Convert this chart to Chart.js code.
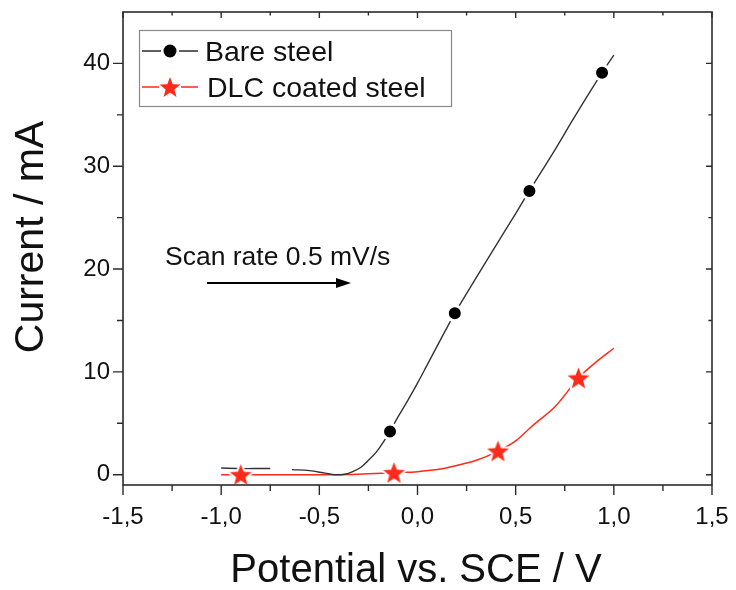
<!DOCTYPE html>
<html>
<head>
<meta charset="utf-8">
<script src="https://cdn.jsdelivr.net/npm/chart.js@4/dist/chart.umd.min.js"></script>
<style>
  html, body { margin: 0; padding: 0; background: #fff; }
  #wrap { width: 736px; height: 590px; }
</style>
</head>
<body>
<div id="wrap"><canvas id="ivChart" width="736" height="590"></canvas></div>
<script>
// Bare steel polarisation curve (V vs SCE, mA); null = break in the trace
var bareV = [-1.00, -0.90, -0.80, -0.75, -0.71, -0.64, -0.55, -0.47, -0.42, -0.37, -0.33, -0.29, -0.25, -0.21, -0.17, -0.14, -0.10, -0.05, 0.00, 0.05, 0.10, 0.19, 0.30, 0.40, 0.50, 0.57, 0.70, 0.80, 0.94, 1.00];
var bareI = [0.65, 0.6, 0.6, 0.6, null, 0.5, 0.4, 0.15, 0.0, 0.05, 0.3, 0.7, 1.4, 2.2, 3.3, 4.2, 5.6, 7.2, 8.9, 10.7, 12.5, 15.7, 19.2, 22.3, 25.4, 27.6, 31.6, 34.8, 39.1, 40.8];
var bareMarkV = [-0.14, 0.19, 0.57, 0.94];
var bareMarkI = [4.2, 15.7, 27.6, 39.1];

// DLC coated steel
var dlcV = [-1.00, -0.90, -0.70, -0.50, -0.30, -0.12, 0.00, 0.10, 0.20, 0.30, 0.41, 0.50, 0.57, 0.60, 0.70, 0.82, 0.90, 1.00];
var dlcI = [0.0, 0.0, 0.0, 0.0, 0.05, 0.2, 0.3, 0.5, 0.9, 1.4, 2.3, 3.3, 4.5, 5.0, 6.6, 9.4, 10.8, 12.3];
var dlcMarkV = [-0.90, -0.12, 0.41, 0.82];
var dlcMarkI = [0.0, 0.2, 2.3, 9.4];

var xTicks = [-1.5, -1.0, -0.5, 0.0, 0.5, 1.0, 1.5];
var yTicks = [0, 10, 20, 30, 40];
var xMinor = [-1.25, -0.75, -0.25, 0.25, 0.75, 1.25];
var yMinor = [5, 15, 25, 35];

var seriesNames = ['Bare steel', 'DLC coated steel'];
var xTitle = 'Potential vs. SCE / V';
var yTitle = 'Current / mA';
var noteText = 'Scan rate 0.5 mV/s';

var FONT = "'Liberation Sans', Arial, sans-serif";
var RED = '#ff2a1a';
var DARK = '#2b2b2b';

function zip(xs, ys) {
    return xs.map(function(x, i) { return { x: x, y: ys[i] }; });
}

function starPath(ctx, cx, cy, r) {
    ctx.beginPath();
    for (var i = 0; i < 10; i++) {
        var rr = i % 2 === 0 ? r : r * 0.42;
        var a = -Math.PI / 2 + i * Math.PI / 5;
        ctx.lineTo(cx + rr * Math.cos(a), cy + rr * Math.sin(a));
    }
    ctx.closePath();
}

// star marker as a small canvas, with a white halo so the line breaks round it
function makeStar(r) {
    var c = document.createElement('canvas');
    var s = Math.ceil(r * 2 + 6);
    c.width = s; c.height = s;
    var g = c.getContext('2d');
    starPath(g, s / 2, s / 2 + 1, r);
    g.lineWidth = 4; g.strokeStyle = '#fff'; g.lineJoin = 'round'; g.stroke();
    g.fillStyle = RED; g.fill();
    return c;
}
var starImg = makeStar(11.5);

function noScalePadding(s) {
    s.paddingTop = 0; s.paddingBottom = 0; s.paddingLeft = 0; s.paddingRight = 0;
}

// frame, ticks, titles, legend and the scan-rate note
var extrasPlugin = {
    id: 'extras',
    afterDatasetsDraw: function(chart) {
        var ctx = chart.ctx;
        var a = chart.chartArea;
        var xs = chart.scales.x, ys = chart.scales.y;
        ctx.save();
        ctx.strokeStyle = DARK;
        ctx.lineWidth = 1.6;
        ctx.strokeRect(a.left, a.top, a.right - a.left, a.bottom - a.top);

        ctx.lineWidth = 1.4;
        ctx.beginPath();
        xTicks.concat(xMinor).forEach(function(v) {
            var px = xs.getPixelForValue(v);
            var len = xTicks.indexOf(v) >= 0 ? 10 : 6;
            ctx.moveTo(px, a.bottom); ctx.lineTo(px, a.bottom + len);
            ctx.moveTo(px, a.top); ctx.lineTo(px, a.top + len * 0.6);
        });
        yTicks.concat(yMinor).forEach(function(v) {
            var py = ys.getPixelForValue(v);
            var len = yTicks.indexOf(v) >= 0 ? 10 : 6;
            ctx.moveTo(a.left, py); ctx.lineTo(a.left - len, py);
            ctx.moveTo(a.right, py); ctx.lineTo(a.right - len * 0.6, py);
        });
        ctx.stroke();

        // axis titles
        ctx.fillStyle = '#111';
        ctx.textAlign = 'center';
        ctx.textBaseline = 'alphabetic';
        ctx.font = '40px ' + FONT;
        ctx.fillText(xTitle, 416, 582);
        ctx.save();
        ctx.translate(43, 237);
        ctx.rotate(-Math.PI / 2);
        ctx.font = '41px ' + FONT;
        ctx.fillText(yTitle, 0, 0);
        ctx.restore();
        ctx.textAlign = 'left';

        // legend
        ctx.strokeStyle = '#8a8a8a';
        ctx.lineWidth = 1.2;
        ctx.strokeRect(139.5, 30.5, 312, 76);
        ctx.font = '28.5px ' + FONT;
        ctx.fillStyle = '#111';
        ctx.fillText(seriesNames[0], 205, 61);
        ctx.fillText(seriesNames[1], 207, 97);
        ctx.lineWidth = 1.3;
        ctx.strokeStyle = DARK;
        ctx.beginPath();
        ctx.moveTo(142, 51); ctx.lineTo(161, 51);
        ctx.moveTo(179, 51); ctx.lineTo(198, 51);
        ctx.stroke();
        ctx.fillStyle = '#000';
        ctx.beginPath(); ctx.arc(170, 51, 6.5, 0, Math.PI * 2); ctx.fill();
        ctx.strokeStyle = RED;
        ctx.beginPath();
        ctx.moveTo(142, 87); ctx.lineTo(159, 87);
        ctx.moveTo(181, 87); ctx.lineTo(198, 87);
        ctx.stroke();
        ctx.fillStyle = RED;
        starPath(ctx, 170, 88, 11); ctx.fill();

        // scan rate note with arrow
        ctx.fillStyle = '#111';
        ctx.font = '26.5px ' + FONT;
        ctx.fillText(noteText, 165, 265);
        ctx.strokeStyle = '#000';
        ctx.lineWidth = 2.2;
        ctx.beginPath(); ctx.moveTo(207, 283); ctx.lineTo(338, 283); ctx.stroke();
        ctx.fillStyle = '#000';
        ctx.beginPath();
        ctx.moveTo(351, 283); ctx.lineTo(336, 278); ctx.lineTo(336, 288);
        ctx.closePath(); ctx.fill();
        ctx.restore();
    }
};

var ctx = document.getElementById('ivChart').getContext('2d');
var ivChart = new Chart(ctx, {
    type: 'scatter',
    data: {
        datasets: [{
            label: seriesNames[0] + ' markers',
            data: zip(bareMarkV, bareMarkI),
            showLine: false,
            pointStyle: 'circle',
            pointRadius: 7.5,
            pointBackgroundColor: '#000',
            pointBorderColor: '#fff',
            pointBorderWidth: 3,
            order: 0
        }, {
            label: seriesNames[1] + ' markers',
            data: zip(dlcMarkV, dlcMarkI),
            showLine: false,
            pointStyle: starImg,
            pointRadius: 10,
            order: 0
        }, {
            label: seriesNames[0],
            data: zip(bareV, bareI),
            showLine: true,
            spanGaps: false,
            borderColor: '#333',
            borderWidth: 1.4,
            tension: 0.35,
            pointRadius: 0,
            order: 1
        }, {
            label: seriesNames[1],
            data: zip(dlcV, dlcI),
            showLine: true,
            borderColor: RED,
            borderWidth: 1.5,
            tension: 0.35,
            pointRadius: 0,
            order: 1
        }]
    },
    options: {
        responsive: false,
        animation: false,
        devicePixelRatio: 1,
        layout: { padding: { top: 12, right: 24, left: 0, bottom: 0 } },
        plugins: {
            legend: { display: false },
            tooltip: { enabled: false }
        },
        scales: {
            x: {
                type: 'linear',
                min: -1.5,
                max: 1.5,
                afterBuildTicks: function(s) { s.ticks = xTicks.map(function(v) { return { value: v }; }); },
                afterFit: function(s) { s.height = 105; noScalePadding(s); },
                grid: { display: false, drawTicks: false },
                border: { display: false },
                ticks: {
                    color: '#111',
                    padding: 18,
                    font: { family: FONT, size: 24 },
                    callback: function(v) { return v.toFixed(1).replace('.', ','); }
                },
                title: { display: false }
            },
            y: {
                type: 'linear',
                min: -1,
                max: 45,
                afterBuildTicks: function(s) { s.ticks = yTicks.map(function(v) { return { value: v }; }); },
                afterFit: function(s) { s.width = 123; noScalePadding(s); },
                grid: { display: false, drawTicks: false },
                border: { display: false },
                ticks: {
                    color: '#111',
                    padding: 13,
                    font: { family: FONT, size: 24 }
                },
                title: { display: false }
            }
        }
    },
    plugins: [extrasPlugin]
});
</script>
</body>
</html>
